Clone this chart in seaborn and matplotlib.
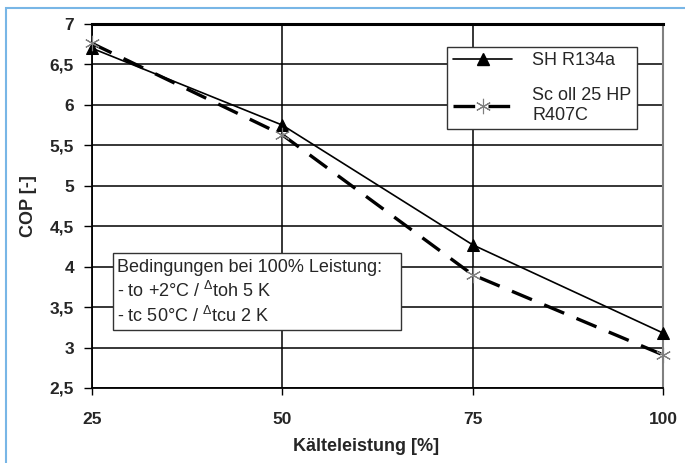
import matplotlib
matplotlib.use("Agg")
import matplotlib.pyplot as plt
import seaborn as sns
import pandas as pd
from matplotlib.lines import Line2D
from matplotlib.patches import Rectangle

# Measured COP at part load
capacity = [25, 50, 75, 100]
cop_sh_r134a = [6.70, 5.75, 4.27, 3.18]
cop_scoll_r407c = [6.76, 5.63, 3.90, 2.91]
series_labels = ["SH R134a", "Sc oll 25 HP\nR407C"]

x_ticks = [25, 50, 75, 100]
x_tick_labels = ["25", "50", "75", "100"]
y_ticks = [2.5, 3, 3.5, 4, 4.5, 5, 5.5, 6, 6.5, 7]
y_tick_labels = ["2,5", "3", "3,5", "4", "4,5", "5", "5,5", "6", "6,5", "7"]
x_title = "Kälteleistung [%]"
y_title = "COP [-]"
note_lines = [
    "Bedingungen bei 100% Leistung:",
    "- to +2°C / $^{\\Delta}$toh 5 K",
    "- tc 50°C / $^{\\Delta}$tcu 2 K",
]

sns.set_style("white")
plt.rcParams["font.family"] = ["Liberation Sans", "DejaVu Sans"]
plt.rcParams["mathtext.fontset"] = "custom"
plt.rcParams["mathtext.rm"] = "Liberation Sans"
plt.rcParams["mathtext.it"] = "Liberation Sans:italic"
plt.rcParams["mathtext.bf"] = "Liberation Sans:bold"

W, H = 685, 463
fig = plt.figure(figsize=(W / 100, H / 100), dpi=100)
fig.patch.set_facecolor("white")

# light blue frame around the figure
fig.add_artist(Rectangle((5.5 / W, -0.1), 1.2, 1 - 7.5 / H + 0.1,
                         transform=fig.transFigure, fill=False,
                         edgecolor="#78b6e6", linewidth=1.5))

ax_l, ax_r, ax_t, ax_b = 92, 663, 24, 388
ax = fig.add_axes([ax_l / W, 1 - ax_b / H, (ax_r - ax_l) / W, (ax_b - ax_t) / H])

df = pd.DataFrame({"capacity": capacity, "sh": cop_sh_r134a, "sc": cop_scoll_r407c})

sh_style = dict(color="black", linewidth=1.2, marker="^", markersize=8,
                markeredgecolor="black")
sc_style = dict(color="black", linewidth=2.4, linestyle=(0, (6.5, 4)),
                marker=(6, 2, 0), markersize=11, markeredgecolor="#7f7f7f",
                markeredgewidth=0.8)

sns.lineplot(data=df, x="capacity", y="sh", ax=ax, legend=False, zorder=3,
             clip_on=False, **sh_style)
sns.lineplot(data=df, x="capacity", y="sc", ax=ax, legend=False, zorder=3,
             clip_on=False, **sc_style)

ax.set_xlim(25, 100)
ax.set_ylim(2.5, 7)

ax.tick_params(axis="x", direction="out", length=5, width=1, color="black",
               pad=12, bottom=True, labelsize=12.5)
ax.tick_params(axis="y", direction="out", length=6, width=1, color="black",
               pad=7, left=True, labelsize=12.5)

ax.set_xticks(x_ticks, x_tick_labels)
ax.set_yticks(y_ticks, y_tick_labels)
for lbl in ax.get_xticklabels() + ax.get_yticklabels():
    lbl.set_fontweight("bold")
    lbl.set_fontsize(12.5)

ax.set_axisbelow(True)
ax.grid(True, color="black", linewidth=1.1)

for side in ["left", "bottom"]:
    ax.spines[side].set_color("black")
    ax.spines[side].set_linewidth(1.3)
ax.spines["top"].set_color("black")
ax.spines["top"].set_linewidth(2.2)
ax.spines["right"].set_color("#808080")
ax.spines["right"].set_linewidth(1.5)

ax.set_xlabel(x_title, fontsize=13, fontweight="bold")
ax.xaxis.set_label_coords((366 - ax_l) / (ax_r - ax_l), (ax_b - 438) / (ax_b - ax_t))
ax.xaxis.label.set_va("top")
ax.set_ylabel(y_title, fontsize=13, fontweight="bold")
ax.yaxis.set_label_coords((37 - ax_l) / (ax_r - ax_l), 0.5)


def to_ax(px, py):
    return ((px - ax_l) / (ax_r - ax_l), (ax_b - py) / (ax_b - ax_t))


# legend
handles = [Line2D([], [], **sh_style), Line2D([], [], **sc_style)]
leg = ax.legend(handles, series_labels, loc="upper right",
                bbox_to_anchor=to_ax(637, 47), borderaxespad=0,
                fontsize=13, handlelength=3.3, labelspacing=1.0,
                borderpad=0.3, handletextpad=1.1, frameon=True,
                fancybox=False, framealpha=1, edgecolor="#333333")
leg.get_frame().set_linewidth(1.0)
leg.set_zorder(5)

# note box with the rating conditions
x0, y0 = to_ax(113, 330)
x1, y1 = to_ax(401, 253)
ax.add_patch(Rectangle((x0, y0), x1 - x0, y1 - y0, transform=ax.transAxes,
                       facecolor="white", edgecolor="#333333", linewidth=1.0,
                       zorder=5))
tx, ty = to_ax(117, 259)
ax.text(tx, ty, "\n".join(note_lines), transform=ax.transAxes, ha="left",
        va="top", fontsize=13, linespacing=1.3, zorder=6)

fig.savefig("out.png", dpi=100, facecolor="white")
